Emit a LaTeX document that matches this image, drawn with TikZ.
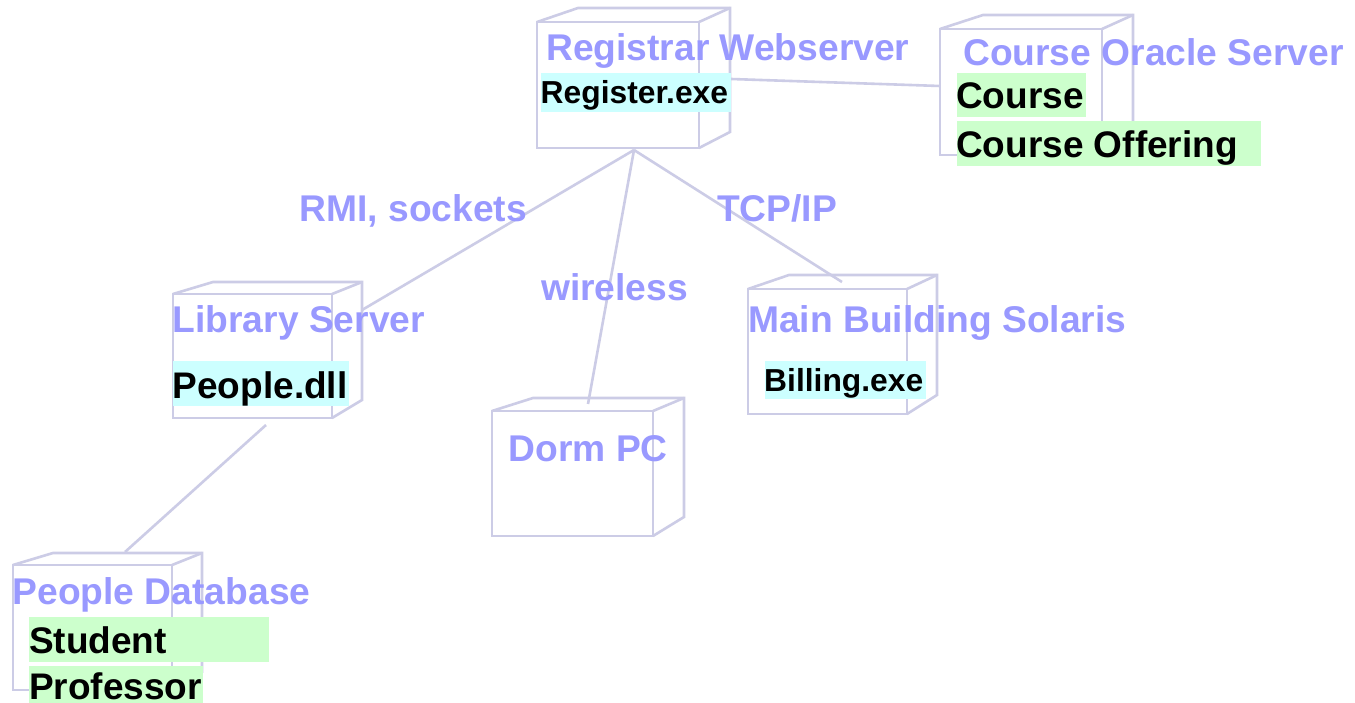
\documentclass[tikz,border=0pt]{standalone}
\usepackage{fontspec}
\setmainfont{Liberation Sans}
\definecolor{edgec}{RGB}{204,204,230}
\definecolor{labc}{RGB}{153,153,255}
\definecolor{cyanbg}{RGB}{204,255,255}
\definecolor{greenbg}{RGB}{204,255,204}
\newcommand{\cubebox}[8]{%
  % #1,#2 front top-left; #3,#4 front bottom-right; #5 back-left x; #6 back-right x; #7 back top y; #8 back bottom-right y
  \draw[cubeline] (#1,#2) rectangle (#3,#4);
  \draw[cubeline] (#1,#2) -- (#5,#7) -- (#6,#7) -- (#6,#8) -- (#3,#4);
  \draw[cubeline] (#3,#2) -- (#6,#7);
}
\begin{document}
\begin{tikzpicture}[x=1pt,y=-1pt,
  cubeline/.style={draw=edgec,line width=2.6pt,line join=miter},
  conn/.style={draw=edgec,line width=2.6pt},
  blab/.style={anchor=base west,inner sep=0pt,text=labc,font=\bfseries\fontsize{37.2}{40}\selectfont},
  klab/.style={anchor=base west,inner sep=0pt,text=black,font=\bfseries\fontsize{37}{40}\selectfont},
  ksmall/.style={anchor=base west,inner sep=0pt,text=black,font=\bfseries\fontsize{31.8}{36}\selectfont},
  hlbox/.style={anchor=north west,inner sep=0pt,outer sep=0pt,draw=none}
]
\useasboundingbox (0,0) rectangle (1355,703);
\fill[white] (0,0) rectangle (1355,703);

% connectors
\coordinate (regbot) at (634,150);
\coordinate (regright) at (731,79);
\coordinate (courseleft) at (940,86);
\coordinate (libtop) at (362,310);
\coordinate (dormtop) at (588,404);
\coordinate (maintop) at (842,282);
\coordinate (libbot) at (266,425);
\coordinate (pdbtop) at (125,552);
\draw[conn] (regright) -- (courseleft);
\draw[conn] (regbot) -- (libtop);
\draw[conn] (regbot) -- (dormtop);
\draw[conn] (regbot) -- (maintop);
\draw[conn] (libbot) -- (pdbtop);

% cubes
\cubebox{537}{22}{699}{148}{578}{730}{8}{132}
\cubebox{940}{29}{1102}{155}{983}{1133}{15}{138}
\cubebox{173}{294}{332}{418}{213}{362}{282}{400}
\cubebox{492}{411}{653}{536}{533}{684}{398}{517}
\cubebox{748}{289}{907}{414}{789}{937}{275}{395}
\cubebox{13}{565}{172}{690}{53}{202}{553}{672}

% highlight boxes
\node[hlbox,fill=cyanbg,minimum width=190pt,minimum height=39pt] (regexebg) at (541,73) {};
\node[hlbox,fill=greenbg,minimum width=129pt,minimum height=44pt] (coursebg) at (957,73) {};
\node[hlbox,fill=greenbg,minimum width=304pt,minimum height=45pt] (offerbg) at (957,121) {};
\node[hlbox,fill=cyanbg,minimum width=176pt,minimum height=45pt] (peoplebg) at (173,361) {};
\node[hlbox,fill=cyanbg,minimum width=161pt,minimum height=38pt] (billbg) at (765,361) {};
\node[hlbox,fill=greenbg,minimum width=240pt,minimum height=45pt] (studbg) at (29,617) {};
\node[hlbox,fill=greenbg,minimum width=174pt,minimum height=37pt] (profbg) at (29,666) {};

% labels
\node[blab] (regname) at (546,61) {Registrar Webserver};
\node[blab] (coursename) at (963,66) {Course Oracle Server};
\node[blab] (libname) at (172.5,333) {Library Server};
\node[blab] (mainname) at (748,333) {Main Building Solaris};
\node[blab] (dormname) at (508.5,461) {Dorm PC};
\node[blab] (pdbname) at (12.5,604) {People Database};
\node[blab] (rmi) at (299.5,222) {RMI, sockets};
\node[blab] (tcp) at (717,222) {TCP/IP};
\node[blab] (wireless) at (541,301) {wireless};

\node[ksmall] (regexe) at (540.5,104) {Register.exe};
\node[klab] (course) at (956,109) {Course};
\node[klab] (offer) at (956,158) {Course Offering};
\node[klab] (people) at (172.5,398) {People.dll};
\node[ksmall] (bill) at (764,391) {Billing.exe};
\node[klab] (stud) at (29,653) {Student};
\node[klab] (prof) at (29,699) {Professor};
\end{tikzpicture}
\end{document}
